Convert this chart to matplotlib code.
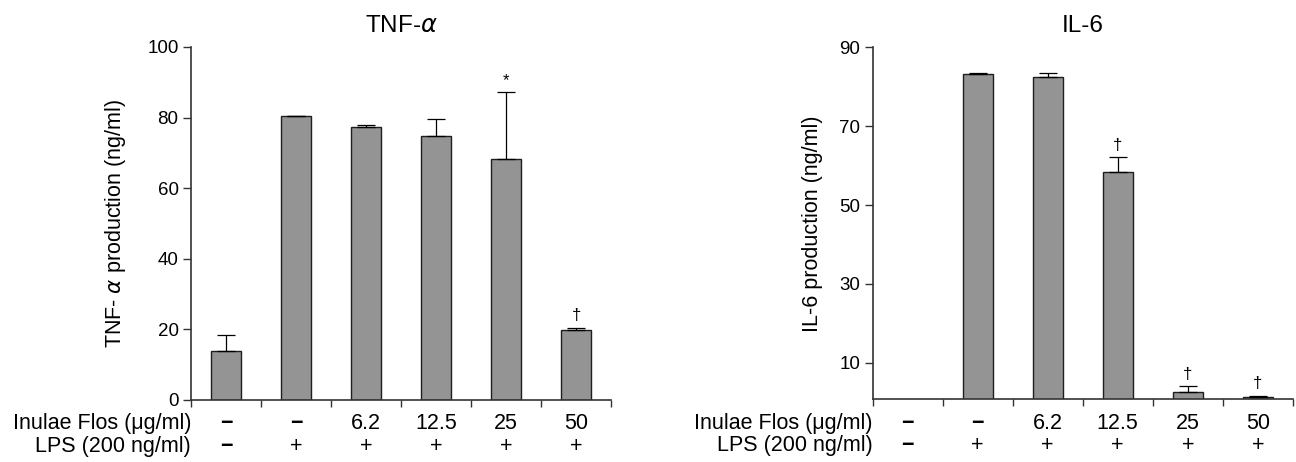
import matplotlib
matplotlib.use("Agg")
import matplotlib.pyplot as plt
import numpy as np

plt.rcParams['font.family'] = ['Liberation Sans', 'DejaVu Sans']

# Data
inulae_labels = ['\u2212', '\u2212', '6.2', '12.5', '25', '50']
lps_labels = ['\u2212', '+', '+', '+', '+', '+']

tnf_mean = [14.0, 80.5, 77.4, 74.8, 68.4, 19.8]
tnf_err = [4.4, 0.0, 0.4, 4.8, 18.9, 0.7]
tnf_marks = ['', '', '', '', '*', '\u2020']

il6_mean = [0.0, 83.3, 82.5, 58.3, 2.5, 1.35]
il6_err = [0.0, 0.15, 0.9, 3.8, 1.5, 0.35]
il6_marks = ['', '', '', '\u2020', '\u2020', '\u2020']

BAR_COLOR = '#949494'
EDGE = '#1e1e1e'
AXIS_COLOR = '#333333'


def draw_panel(ax, means, errs, marks, title, ylabel, ylim, yticks):
    x = np.arange(len(means))
    ax.bar(x, means, width=0.43, color=BAR_COLOR, edgecolor=EDGE,
           linewidth=1.0, zorder=2)
    ax.errorbar(x, means, yerr=[np.zeros(len(errs)), errs], fmt='none',
                ecolor='black', elinewidth=0.9, capsize=6.5, capthick=0.9,
                zorder=3)
    for xi, m, e, mark in zip(x, means, errs, marks):
        if mark:
            ax.annotate(mark, (xi, m + e), xytext=(0, 3),
                        textcoords='offset points', ha='center', va='bottom',
                        fontsize=12)

    ax.set_xlim(-0.5, len(means) - 0.5)
    ax.set_ylim(*ylim)
    ax.set_yticks(yticks)
    ax.set_xticks(np.arange(len(means) + 1) - 0.5)
    ax.set_xticklabels([])
    ax.tick_params(axis='y', direction='out', length=6, width=1.0,
                   colors=AXIS_COLOR, labelcolor='black', labelsize=13.5,
                   pad=3)
    ax.tick_params(axis='x', direction='out', length=5, width=1.0,
                   colors=AXIS_COLOR)
    for side in ['top', 'right']:
        ax.spines[side].set_visible(False)
    for side in ['left', 'bottom']:
        ax.spines[side].set_color(AXIS_COLOR)
        ax.spines[side].set_linewidth(1.2)

    ax.set_title(title, fontsize=17.5, pad=11)
    ax.set_ylabel(ylabel, fontsize=15.5)

    # treatment rows under the axis
    trans = ax.get_xaxis_transform()
    ax.text(-0.5, -0.083, 'Inulae Flos (\u03bcg/ml)', transform=trans,
            ha='right', va='baseline', fontsize=15.5)
    ax.text(-0.5, -0.146, 'LPS (200 ng/ml)', transform=trans,
            ha='right', va='baseline', fontsize=15.5)
    for xi, (a, b) in enumerate(zip(inulae_labels, lps_labels)):
        ax.text(xi, -0.083, a, transform=trans, ha='center', va='baseline',
                fontsize=15.5, fontweight='bold' if a == '\u2212' else 'normal')
        ax.text(xi, -0.146, b, transform=trans, ha='center', va='baseline',
                fontsize=15.5, fontweight='bold' if b == '\u2212' else 'normal')


fig = plt.figure(figsize=(12.96, 4.62), dpi=100)
ax1 = fig.add_axes([0.1474, 0.1342, 0.3241, 0.7641])
ax2 = fig.add_axes([0.6734, 0.1357, 0.3241, 0.7619])

draw_panel(ax1, tnf_mean, tnf_err, tnf_marks, r'TNF-$\alpha$',
           r'TNF- $\alpha$ production (ng/ml)', (0, 100),
           [0, 20, 40, 60, 80, 100])
draw_panel(ax2, il6_mean, il6_err, il6_marks, 'IL-6',
           'IL-6 production (ng/ml)', (0.75, 90), [10, 30, 50, 70, 90])

ax1.yaxis.set_label_coords(-0.149, 0.5)
ax2.yaxis.set_label_coords(-0.118, 0.5)

fig.savefig('out.png', dpi=100)
